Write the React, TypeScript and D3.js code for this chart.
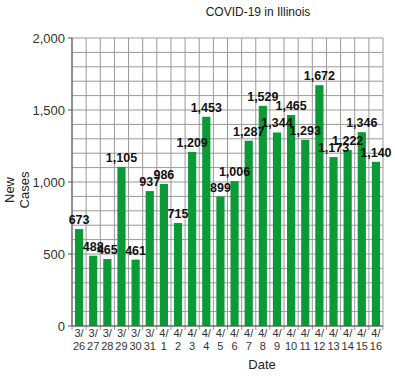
import React from "react";
import * as d3 from "d3";

const months = ["3/","3/","3/","3/","3/","3/","4/","4/","4/","4/","4/","4/","4/","4/","4/","4/","4/","4/","4/","4/","4/","4/"];
const days = ["26","27","28","29","30","31","1","2","3","4","5","6","7","8","9","10","11","12","13","14","15","16"];
const cases = [673,488,465,1105,461,937,986,715,1209,1453,899,1006,1287,1529,1344,1465,1293,1672,1173,1222,1346,1140];
const yTicks = [0,500,1000,1500,2000];

export default function App() {
  const W = 395, H = 376;
  const left = 72, right = 383, top = 38, bottom = 326;
  const keys = days.map((d, i) => months[i] + d);
  const x = d3.scaleBand<string>().domain(keys).range([left, right]).paddingInner(0.42).paddingOuter(0.21);
  const xb = d3.scaleBand<string>().domain(keys).range([left, right]);
  const y = d3.scaleLinear().domain([0, 2000]).range([bottom, top]);
  const fmt = d3.format(",");
  const minor = d3.range(0, 2001, 100);
  const font = "'Liberation Sans', Arial, sans-serif";
  return (
    <svg width={W} height={H} style={{ position: "absolute", left: 0, top: 0, background: "#fff" }} fontFamily={font}>
      {minor.map(v => (
        <line key={"h" + v} x1={left} x2={right} y1={y(v)} y2={y(v)} stroke="#999" strokeWidth={1} />
      ))}
      {keys.map((k, i) => (
        <line key={"v" + k} x1={xb(k)!} x2={xb(k)!} y1={top} y2={bottom + 4} stroke="#999" strokeWidth={1} />
      ))}
      <line x1={right} x2={right} y1={top} y2={bottom + 4} stroke="#999" />
      {yTicks.map(v => (
        <g key={"t" + v}>
          <line x1={left - 4} x2={left} y1={y(v)} y2={y(v)} stroke="#555" />
          <text x={left - 7} y={y(v)} dy="0.35em" textAnchor="end" fontSize={13} fill="#333">{fmt(v)}</text>
        </g>
      ))}
      {keys.map((k, i) => (
        <rect key={"b" + k} x={x(k)!} width={x.bandwidth()} y={y(cases[i])} height={bottom - y(cases[i])} fill="#0b9a36" />
      ))}
      <line x1={left} x2={left} y1={top} y2={bottom} stroke="#555" />
      <line x1={left} x2={right} y1={bottom} y2={bottom} stroke="#555" />
      {keys.map((k, i) => (
        <text key={"l" + k} x={x(k)! + x.bandwidth() / 2} y={y(cases[i]) - 5} textAnchor="middle" fontSize={12.5} fontWeight="bold" fill="#111">{fmt(cases[i])}</text>
      ))}
      {keys.map((k, i) => (
        <g key={"x" + k} fontSize={11} fill="#333" textAnchor="middle">
          <text x={x(k)! + x.bandwidth() / 2} y={337}>{months[i]}</text>
          <text x={x(k)! + x.bandwidth() / 2} y={350}>{days[i]}</text>
        </g>
      ))}
      <text x={262} y={369} textAnchor="middle" fontSize={13} fill="#222">Date</text>
      <text x={258} y={16} textAnchor="middle" fontSize={12} fill="#222">COVID-19 in Illinois</text>
      <g transform="translate(14,190) rotate(-90)" fontSize={13} fill="#222" textAnchor="middle">
        <text x={0} y={0}>New</text>
        <text x={0} y={15}>Cases</text>
      </g>
    </svg>
  );
}
